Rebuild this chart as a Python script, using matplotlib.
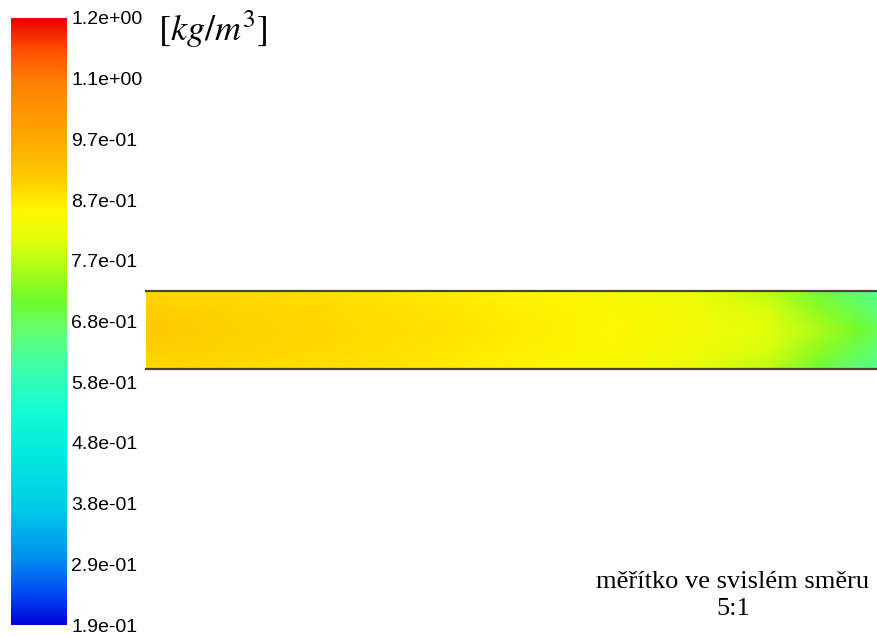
import matplotlib
matplotlib.use("Agg")
import numpy as np
import matplotlib.pyplot as plt
from matplotlib.colors import LinearSegmentedColormap, Normalize
from matplotlib.cm import ScalarMappable

plt.rcParams["mathtext.fontset"] = "stix"

# colour scale range and labels (density, kg/m3)
v_min, v_max = 0.188, 1.163
tick_values = [0.188, 0.2855, 0.383, 0.4805, 0.578, 0.6755, 0.773, 0.8705, 0.968, 1.0655, 1.163]
tick_labels = ["1.9e-01", "2.9e-01", "3.8e-01", "4.8e-01", "5.8e-01", "6.8e-01",
               "7.7e-01", "8.7e-01", "9.7e-01", "1.1e+00", "1.2e+00"]

# density read along the channel (x as fraction of the visible length)
x_pos = [0.0, 0.125, 0.25, 0.375, 0.5, 0.625, 0.75, 0.85, 0.92, 0.97, 1.0]
rho_center = [0.906, 0.898, 0.890, 0.880, 0.866, 0.852, 0.836, 0.808, 0.760, 0.715, 0.680]
rho_mid = [0.902, 0.895, 0.887, 0.877, 0.863, 0.849, 0.832, 0.798, 0.735, 0.685, 0.655]
rho_wall = [0.890, 0.885, 0.878, 0.869, 0.856, 0.843, 0.822, 0.775, 0.700, 0.650, 0.630]
y_pos = [-1.0, -0.5, 0.0, 0.5, 1.0]

# fluent-like rainbow picked from the legend bar
cmap_nodes = [
    (0.000, (0, 0, 215)),
    (0.041, (0, 60, 240)),
    (0.107, (0, 140, 240)),
    (0.189, (0, 200, 230)),
    (0.272, (0, 230, 220)),
    (0.354, (20, 250, 210)),
    (0.437, (70, 255, 160)),
    (0.486, (100, 255, 110)),
    (0.535, (110, 250, 40)),
    (0.568, (150, 250, 30)),
    (0.634, (225, 255, 10)),
    (0.684, (255, 245, 0)),
    (0.733, (255, 205, 0)),
    (0.799, (255, 170, 0)),
    (0.898, (255, 125, 0)),
    (0.947, (255, 80, 0)),
    (1.000, (235, 0, 0)),
]
cmap = LinearSegmentedColormap.from_list(
    "fluent", [(p, tuple(c / 255 for c in rgb)) for p, rgb in cmap_nodes], N=512)
norm = Normalize(v_min, v_max)

W, H = 878, 638
fig = plt.figure(figsize=(W / 100, H / 100), dpi=100)

# legend bar
cax = fig.add_axes([11 / W, (H - 625) / H, 56 / W, 607 / H])
cb = fig.colorbar(ScalarMappable(norm=norm, cmap=cmap), cax=cax, ticks=tick_values)
cb.ax.set_yticklabels(tick_labels, fontsize=14, family="Liberation Sans")
cb.ax.tick_params(length=0, pad=3)
cb.outline.set_visible(False)

fig.text(158 / W, 1 - 29 / H, r"$[kg/m^3]$", fontsize=26, ha="left", va="center")

# channel contour
ax = fig.add_axes([146 / W, (H - 369) / H, 732 / W, 78 / H])
field = np.array([rho_wall, rho_mid, rho_center, rho_mid, rho_wall])
ax.pcolormesh(x_pos, y_pos, field, cmap=cmap, norm=norm, shading="gouraud")
ax.set_xlim(0, 1)
ax.set_ylim(-1, 1)
ax.axhline(1, color="#4a4436", lw=1.6, clip_on=False)
ax.axhline(-1, color="#4a4436", lw=1.6, clip_on=False)
ax.axis("off")

fig.text(733 / W, 1 - 582 / H, "měřítko ve svislém směru", fontsize=19,
         family="Liberation Serif", ha="center", va="center")
fig.text(733 / W, 1 - 609 / H, "5:1", fontsize=19,
         family="Liberation Serif", ha="center", va="center")

fig.savefig("out.png", dpi=100)
